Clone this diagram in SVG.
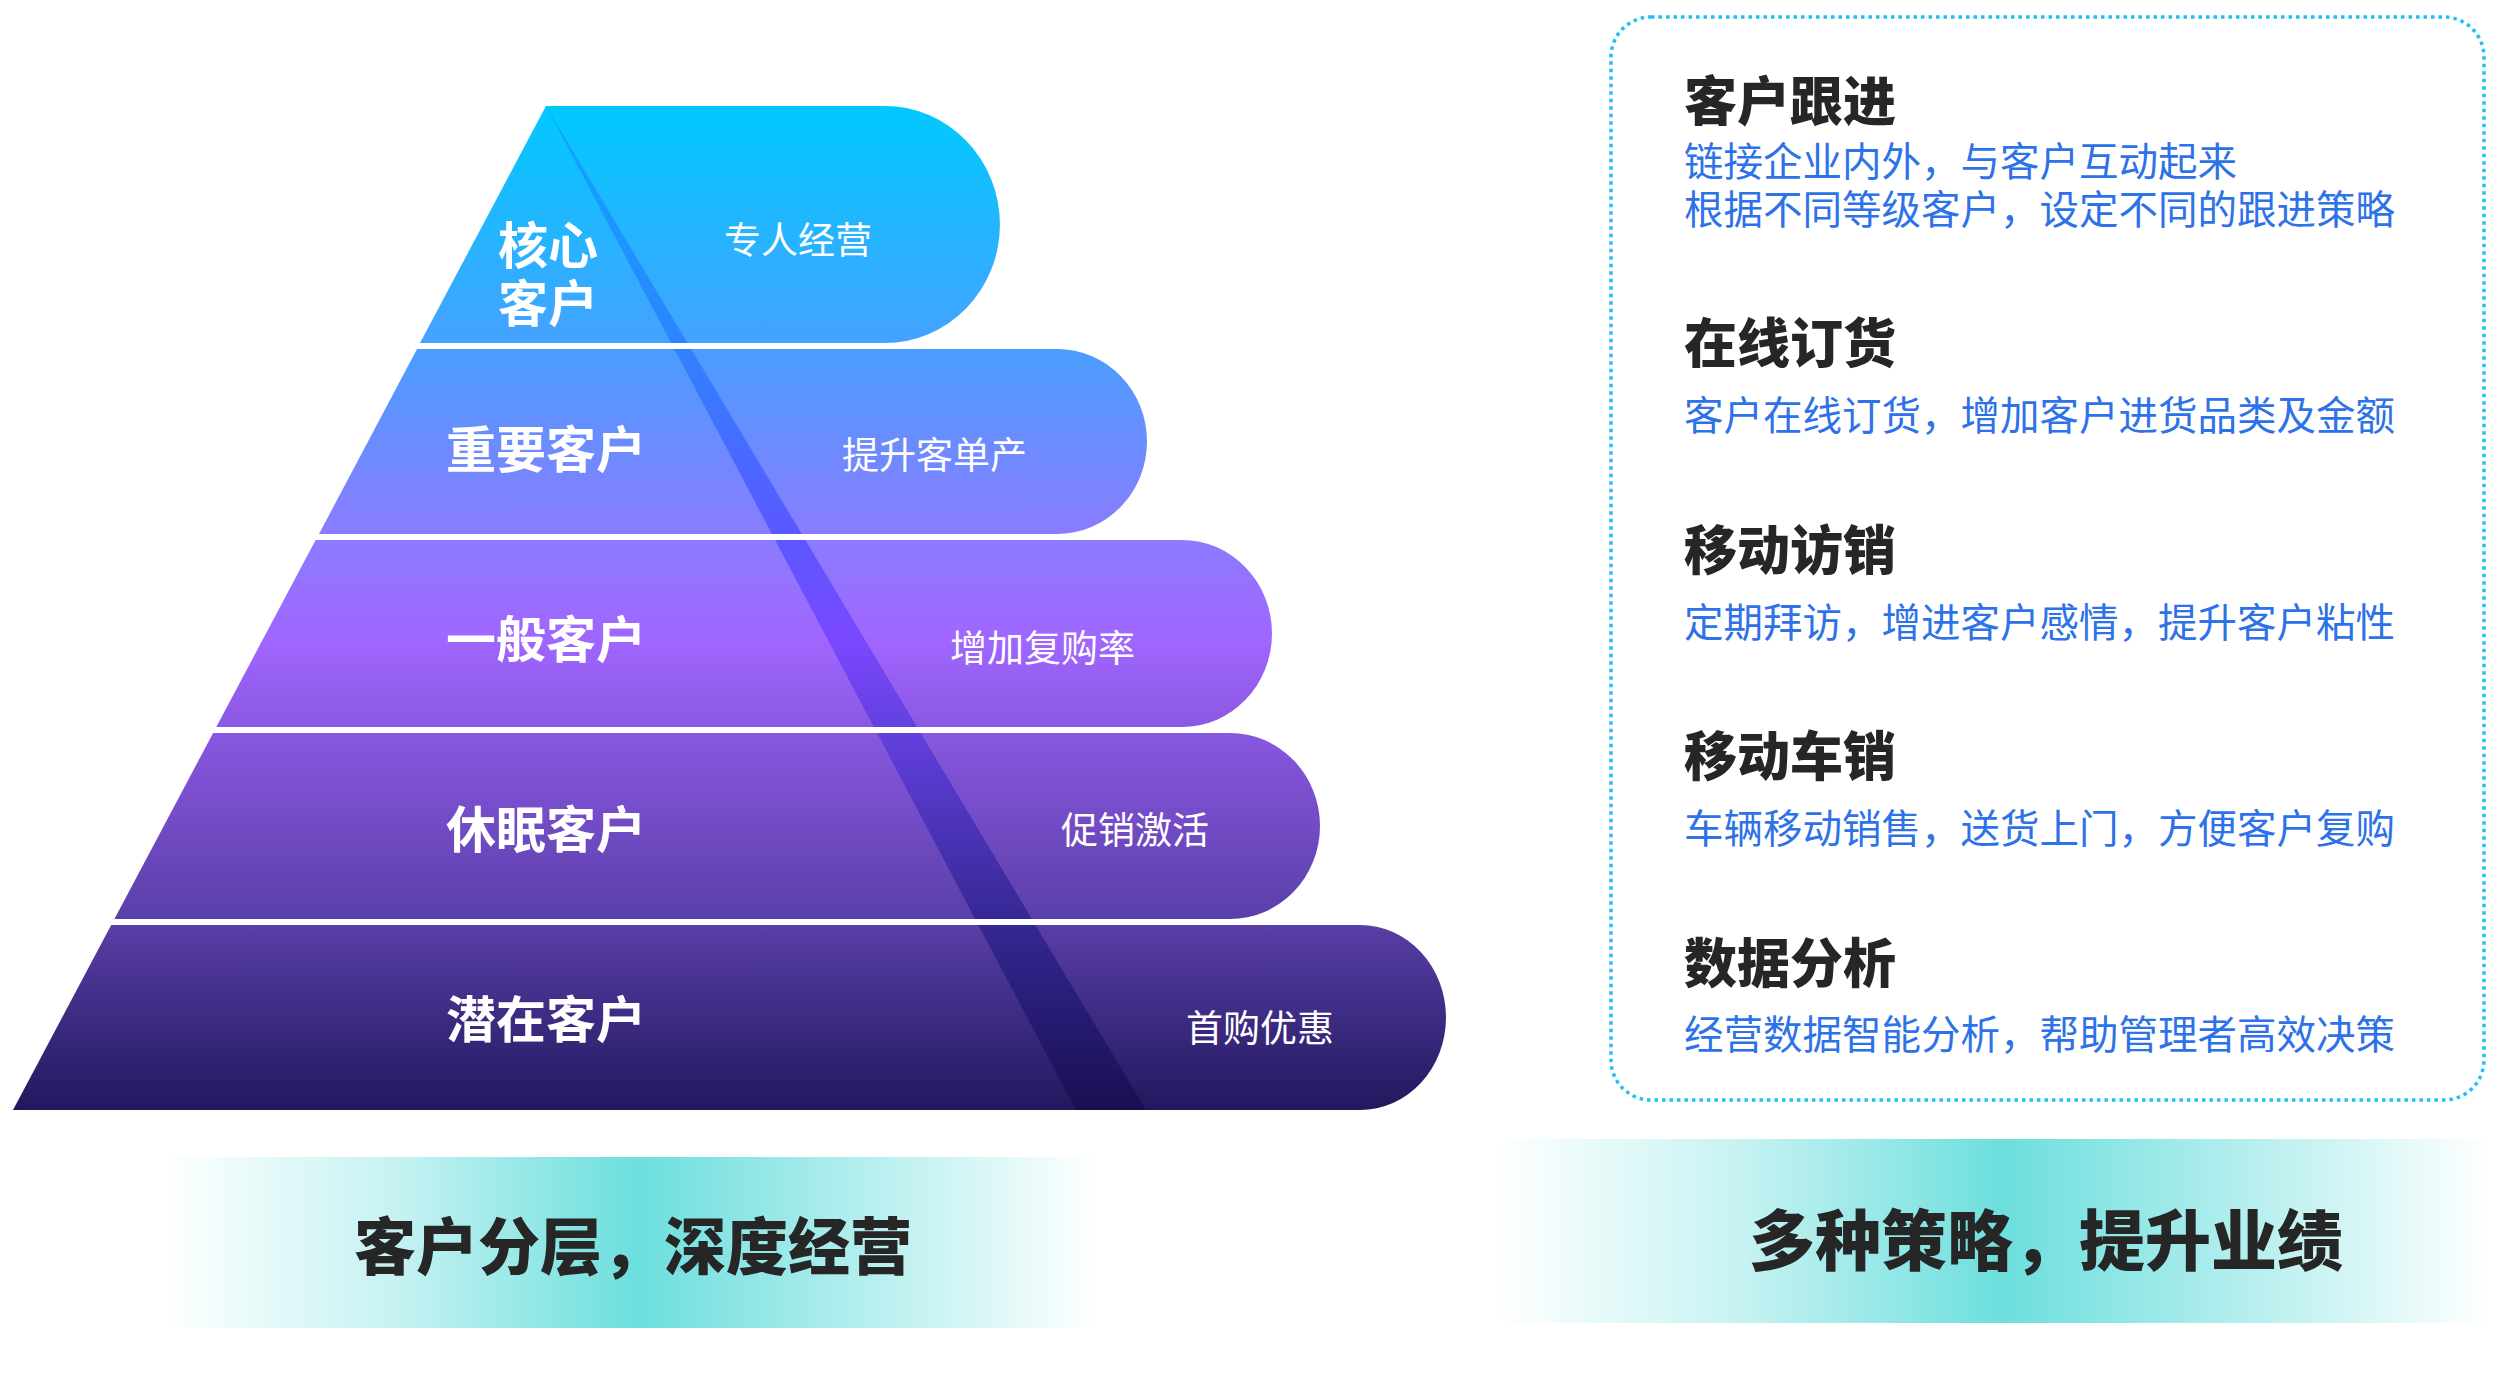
<svg xmlns="http://www.w3.org/2000/svg" xmlns:xlink="http://www.w3.org/1999/xlink" width="2505" height="1379" viewBox="0 0 2505 1379">
<style>
.cn{font-family:"Noto Sans CJK SC","Noto Sans",sans-serif;}
.lvl{font-size:50px;font-weight:700;fill:#ffffff;text-anchor:middle;}
.act{font-size:37px;font-weight:400;fill:#ffffff;}
.ttl{font-size:53px;font-weight:900;fill:#262626;}
.dsc{font-size:39.5px;font-weight:400;fill:#2d72e8;}
.ban{font-weight:900;fill:#262626;}
</style>
<defs>
<linearGradient id="pg" gradientUnits="userSpaceOnUse" x1="0" y1="106" x2="0" y2="1110">
<stop offset="0" stop-color="#00c9ff"/>
<stop offset="0.236" stop-color="#45a2ff"/>
<stop offset="0.242" stop-color="#4a9cff"/>
<stop offset="0.426" stop-color="#8a7cff"/>
<stop offset="0.532" stop-color="#a066ff"/>
<stop offset="0.618" stop-color="#8a58e2"/>
<stop offset="0.81" stop-color="#5a3fa8"/>
<stop offset="1" stop-color="#22185e"/>
</linearGradient>
<linearGradient id="sg" gradientUnits="userSpaceOnUse" x1="0" y1="106" x2="0" y2="1110">
<stop offset="0" stop-color="#0aa8ff"/>
<stop offset="0.236" stop-color="#2e84ff"/>
<stop offset="0.426" stop-color="#5a58ff"/>
<stop offset="0.532" stop-color="#7a48ff"/>
<stop offset="0.618" stop-color="#6440e0"/>
<stop offset="0.81" stop-color="#352894"/>
<stop offset="1" stop-color="#180f52"/>
</linearGradient>
<linearGradient id="bg" x1="0" y1="0" x2="1" y2="0">
<stop offset="0" stop-color="#ffffff"/>
<stop offset="0.25" stop-color="#c6f2f2"/>
<stop offset="0.51" stop-color="#6cdfdd"/>
<stop offset="0.75" stop-color="#b4eeee"/>
<stop offset="1" stop-color="#ffffff"/>
</linearGradient>
<path id="t1" d="M546,106 L885,106 A115,118.5 0 0 1 885,343 L420,343 Z"/>
<path id="t2" d="M417,349 L1057,349 A90,92.5 0 0 1 1057,534 L319,534 Z"/>
<path id="t3" d="M315.6,540 L1182,540 A90,93.5 0 0 1 1182,727 L216.3,727 Z"/>
<path id="t4" d="M213.1,733 L1230,733 A90,93 0 0 1 1230,919 L114.4,919 Z"/>
<path id="t5" d="M111.2,925 L1360,925 A86,92.5 0 0 1 1360,1110 L13,1110 Z"/>
<clipPath id="tc">
<use xlink:href="#t1"/><use xlink:href="#t2"/><use xlink:href="#t3"/><use xlink:href="#t4"/><use xlink:href="#t5"/>
</clipPath>
</defs>
<rect width="2505" height="1379" fill="#ffffff"/>

<g id="tier-core"><use xlink:href="#t1" fill="url(#pg)"/></g>
<g id="tier-important"><use xlink:href="#t2" fill="url(#pg)"/></g>
<g id="tier-general"><use xlink:href="#t3" fill="url(#pg)"/></g>
<g id="tier-dormant"><use xlink:href="#t4" fill="url(#pg)"/></g>
<g id="tier-potential"><use xlink:href="#t5" fill="url(#pg)"/></g>
<g id="stripe" clip-path="url(#tc)"><polygon points="546,106 1146,1110 1076,1110" fill="url(#sg)"/></g>

<g id="labels-core" class="cn">
<text class="lvl" x="548" y="264">核心<tspan x="548" dy="58">客户</tspan></text>
<text class="act" x="724" y="254">专人经营</text>
</g>
<g id="labels-important" class="cn">
<text class="lvl" x="546" y="468">重要客户</text>
<text class="act" x="842" y="469">提升客单产</text>
</g>
<g id="labels-general" class="cn">
<text class="lvl" x="546" y="658">一般客户</text>
<text class="act" x="950" y="662">增加复购率</text>
</g>
<g id="labels-dormant" class="cn">
<text class="lvl" x="546" y="848">休眠客户</text>
<text class="act" x="1061" y="844">促销激活</text>
</g>
<g id="labels-potential" class="cn">
<text class="lvl" x="546" y="1038">潜在客户</text>
<text class="act" x="1186" y="1042">首购优惠</text>
</g>

<g id="strategy-box">
<rect x="1611" y="17" width="873" height="1083" rx="40" ry="40" fill="none" stroke="#1fc0f5" stroke-width="3.5" stroke-dasharray="3.5 4"/>
<g class="cn">
<text class="ttl" x="1684" y="121">客户跟进</text>
<text class="dsc" x="1684" y="176">链接企业内外，与客户互动起来<tspan x="1684" dy="48">根据不同等级客户，设定不同的跟进策略</tspan></text>
<text class="ttl" x="1684" y="363">在线订货</text>
<text class="dsc" x="1684" y="430">客户在线订货，增加客户进货品类及金额</text>
<text class="ttl" x="1684" y="570">移动访销</text>
<text class="dsc" x="1684" y="637">定期拜访，增进客户感情，提升客户粘性</text>
<text class="ttl" x="1684" y="776">移动车销</text>
<text class="dsc" x="1684" y="843">车辆移动销售，送货上门，方便客户复购</text>
<text class="ttl" x="1684" y="983">数据分析</text>
<text class="dsc" x="1684" y="1049">经营数据智能分析，帮助管理者高效决策</text>
</g>
</g>

<g id="banner-left">
<rect x="163" y="1157" width="933" height="171" fill="url(#bg)"/>
<text class="cn ban" x="354" y="1270" font-size="62">客户分层，深度经营</text>
</g>
<g id="banner-right">
<rect x="1496" y="1139" width="994" height="184" fill="url(#bg)"/>
<text class="cn ban" x="1749" y="1265" font-size="66">多种策略，提升业绩</text>
</g>
<g id="connectors"/>
</svg>
